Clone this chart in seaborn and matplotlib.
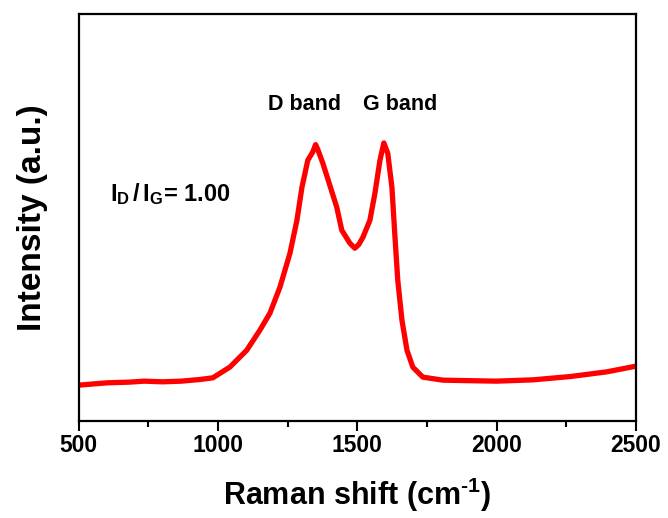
import numpy as np
import pandas as pd
import matplotlib
matplotlib.use("Agg")
import matplotlib.pyplot as plt
from matplotlib.ticker import MultipleLocator
import seaborn as sns

# Raman spectrum (intensity in arbitrary units)
shift = [500, 602, 680, 735, 800, 868, 935, 981, 1042, 1103, 1150, 1186,
         1222, 1258, 1283, 1301, 1322, 1340, 1350, 1358, 1376, 1401,
         1426, 1444, 1473, 1491, 1505, 1520, 1545, 1563, 1581, 1595,
         1609, 1624, 1635, 1645, 1660, 1678, 1699, 1735, 1807, 1866,
         1999, 2132, 2266, 2396, 2500]
intensity = [108, 115, 117, 120, 118, 120, 125, 130, 162, 213, 273, 324,
             402, 504, 603, 702, 783, 808, 830, 815, 774, 708,
             642, 573, 534, 519, 530, 552, 603, 684, 783, 835,
             804, 702, 552, 423, 303, 213, 162, 132, 123, 122,
             120, 124, 134, 148, 165]

band_labels = ["D band", "G band"]
band_pos = [1311, 1653]
ratio_text = r"$\mathrm{I_D\,/\,I_G}$= 1.00"

df = pd.DataFrame({"shift": shift, "intensity": intensity})

sns.set_style("white")
plt.rcParams["font.family"] = ["Liberation Sans", "DejaVu Sans"]
plt.rcParams["font.weight"] = "bold"
plt.rcParams["text.color"] = "black"
plt.rcParams["axes.labelcolor"] = "black"
plt.rcParams["xtick.color"] = "black"
plt.rcParams["mathtext.fontset"] = "custom"
plt.rcParams["mathtext.rm"] = "Liberation Sans:bold"
plt.rcParams["mathtext.it"] = "Liberation Sans:bold"
plt.rcParams["mathtext.bf"] = "Liberation Sans:bold"

fig = plt.figure(figsize=(6.68, 5.18), dpi=100)
ax = fig.add_axes([0.118, 0.187, 0.834, 0.786])

sns.lineplot(data=df, x="shift", y="intensity", color="#ff0000",
             linewidth=3.8, ax=ax)

ax.set_xlim(500, 2500)
ax.set_ylim(0, 1222)
ax.xaxis.set_major_locator(MultipleLocator(500))
ax.xaxis.set_minor_locator(MultipleLocator(250))
ax.set_yticks([])
ax.tick_params(axis="x", which="major", direction="out", length=7, width=1.5,
               labelsize=16.5, pad=2, bottom=True, colors="black")
ax.tick_params(axis="x", which="minor", direction="out", length=4.5,
               width=1.5, bottom=True)
for lbl in ax.get_xticklabels():
    lbl.set_fontweight("bold")
for sp in ax.spines.values():
    sp.set_linewidth(1.6)
    sp.set_color("black")

ax.set_xlabel(r"Raman shift (cm$^{\text{-}1}$)", fontsize=22,
              fontweight="bold", labelpad=14)
ax.set_ylabel("Intensity (a.u.)", fontsize=24, fontweight="bold", labelpad=22)

for lab, xp in zip(band_labels, band_pos):
    ax.text(xp, 950, lab, ha="center", va="center", fontsize=15.5,
            fontweight="bold", color="black")
ax.text(611, 682, ratio_text, ha="left", va="center", fontsize=17,
        fontweight="bold", color="black")

fig.savefig("out.png", dpi=100)
plt.close()
